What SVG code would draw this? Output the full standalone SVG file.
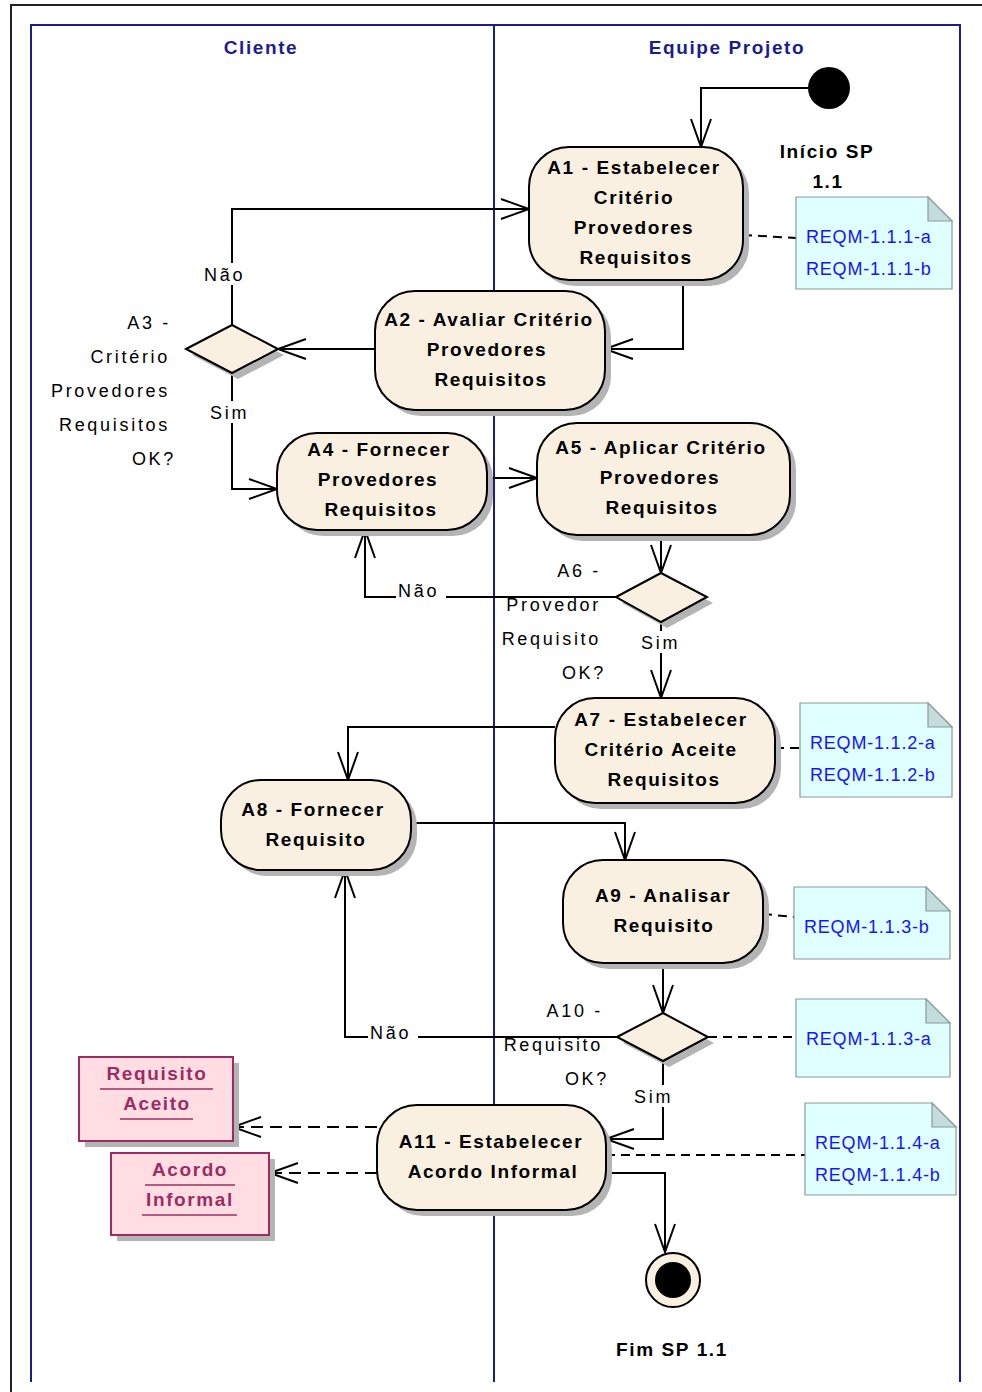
<svg xmlns="http://www.w3.org/2000/svg" width="982" height="1392" viewBox="0 0 982 1392">
<style>
.frame{fill:none;stroke:#222;stroke-width:2}
.lane{fill:none;stroke:#1c1c8a;stroke-width:2}
.hdr{font-family:"Liberation Sans",Arial,sans-serif;font-weight:bold;font-size:19px;letter-spacing:1.6px;fill:#1c1c8a;text-anchor:middle}
.act{fill:#faf0e1;stroke:#000;stroke-width:2}
.shd{fill:#b4b4b4;stroke:none}
.at{font-family:"Liberation Sans",Arial,sans-serif;font-weight:bold;font-size:19px;letter-spacing:1.6px;fill:#000;text-anchor:middle}
.lbl{font-family:"Liberation Sans",Arial,sans-serif;font-size:18px;letter-spacing:2.7px;fill:#000}
.bl{font-family:"Liberation Sans",Arial,sans-serif;font-weight:bold;font-size:19px;letter-spacing:1.6px;fill:#000;text-anchor:middle}
.note{fill:#e0ffff;stroke:#8a9a9a;stroke-width:1.2}
.fold{fill:#c4dcdc;stroke:#8a9a9a;stroke-width:1.2}
.nt{font-family:"Liberation Sans",Arial,sans-serif;font-size:18px;letter-spacing:0.8px;fill:#1414ff}
.obj{fill:#ffdde2;stroke:#9c2c62;stroke-width:2}
.ot{font-family:"Liberation Sans",Arial,sans-serif;font-weight:bold;font-size:19px;letter-spacing:1.6px;fill:#9c2c62;text-anchor:middle}
.ul{stroke:#9c2c62;stroke-width:1.5}
.flow{fill:none;stroke:#000;stroke-width:2;marker-end:url(#arr)}
.dash{fill:none;stroke:#000;stroke-width:2;stroke-dasharray:9 6}
.dasharr{fill:none;stroke:#000;stroke-width:2;stroke-dasharray:12 7;marker-end:url(#arr)}
.bg{fill:#fff}
</style>
<defs>
<marker id="arr" viewBox="-31 -12 34 24" refX="0" refY="0" markerWidth="34" markerHeight="24" markerUnits="userSpaceOnUse" orient="auto">
<path d="M-28,-10 L0,0 L-28,10" fill="none" stroke="#000" stroke-width="2"/>
</marker>
</defs>
<rect width="982" height="1392" fill="#fff"/>
<!-- frame -->
<path class="frame" d="M11,1392 V5 H982"/>
<!-- swimlanes -->
<g id="lanes">
<path class="lane" d="M31,1382 V25 H960 V1382"/>
<line class="lane" x1="494" y1="25" x2="494" y2="1382"/>
<text class="hdr" x="261" y="54">Cliente</text>
<text class="hdr" x="727" y="54">Equipe Projeto</text>
</g>

<!-- connectors -->
<g id="connectors">
<path class="flow" d="M808,88 H701 V147"/>
<path class="flow" d="M683,280 V349 H605"/>
<path class="flow" d="M375,349 H278"/>
<path class="flow" d="M232,325 V209 H529"/>
<path class="flow" d="M232,373 V489 H277"/>
<path class="flow" d="M487,478 H537"/>
<path class="flow" d="M661,535 V573"/>
<path class="flow" d="M616,597 H365 V530"/>
<path class="flow" d="M661,622 V698"/>
<path class="flow" d="M555,727 H348 V780"/>
<path class="flow" d="M411,823 H625 V860"/>
<path class="flow" d="M663,963 V1013"/>
<path class="flow" d="M617,1037 H345 V870"/>
<path class="flow" d="M663,1061 V1139 H606"/>
<path class="flow" d="M606,1173 H665 V1252"/>
<path class="dasharr" d="M377,1127 H233"/>
<path class="dasharr" d="M377,1173 H270"/>
<path class="dash" d="M743,235 L796,238"/>
<path class="dash" d="M775,748 H800"/>
<path class="dash" d="M763,914 L794,917"/>
<path class="dash" d="M708,1037 H796"/>
<path class="dash" d="M606,1155 H805"/>
<!-- guard labels -->
<rect class="bg" x="202" y="263" width="50" height="22"/>
<text class="lbl" x="204" y="281">Não</text>
<rect class="bg" x="208" y="401" width="46" height="22"/>
<text class="lbl" x="210" y="419">Sim</text>
<rect class="bg" x="396" y="579" width="50" height="22"/>
<text class="lbl" x="398" y="597">Não</text>
<rect class="bg" x="639" y="631" width="46" height="22"/>
<text class="lbl" x="641" y="649">Sim</text>
<rect class="bg" x="368" y="1021" width="50" height="22"/>
<text class="lbl" x="370" y="1039">Não</text>
<rect class="bg" x="632" y="1085" width="46" height="22"/>
<text class="lbl" x="634" y="1103">Sim</text>
</g>

<!-- initial node -->
<g id="start">
<circle cx="829" cy="88" r="21" fill="#000"/>
<text class="bl" x="827" y="158">Início SP</text>
<text class="bl" x="828" y="188">1.1</text>
</g>

<g id="A1">
<rect class="shd" x="535" y="153" width="214" height="133" rx="40"/>
<rect class="act" x="529" y="147" width="214" height="133" rx="40"/>
<text class="at" x="634" y="174">A1 - Estabelecer</text>
<text class="at" x="634" y="204">Critério</text>
<text class="at" x="634" y="234">Provedores</text>
<text class="at" x="636" y="264">Requisitos</text>
</g>

<g id="note1">
<polygon class="note" points="796,197 928,197 952,221 952,289 796,289"/>
<polygon class="fold" points="928,197 952,221 928,221"/>
<text class="nt" x="806" y="243">REQM-1.1.1-a</text>
<text class="nt" x="806" y="275">REQM-1.1.1-b</text>
</g>

<g id="A2">
<rect class="shd" x="381" y="297" width="230" height="119" rx="40"/>
<rect class="act" x="375" y="291" width="230" height="119" rx="40"/>
<text class="at" x="489" y="326">A2 - Avaliar Critério</text>
<text class="at" x="487" y="356">Provedores</text>
<text class="at" x="491" y="386">Requisitos</text>
</g>

<g id="A3">
<polygon class="shd" points="192,355 238,331 284,355 238,379"/>
<polygon class="act" points="186,349 232,325 278,349 232,373"/>
<text class="lbl" text-anchor="end" x="171" y="329">A3 -</text>
<text class="lbl" text-anchor="end" x="170" y="363">Critério</text>
<text class="lbl" text-anchor="end" x="170" y="397">Provedores</text>
<text class="lbl" text-anchor="end" x="170" y="431">Requisitos</text>
<text class="lbl" text-anchor="end" x="176" y="465">OK?</text>
</g>

<g id="A4">
<rect class="shd" x="283" y="439" width="210" height="97" rx="40"/>
<rect class="act" x="277" y="433" width="210" height="97" rx="40"/>
<text class="at" x="379" y="456">A4 - Fornecer</text>
<text class="at" x="378" y="486">Provedores</text>
<text class="at" x="381" y="516">Requisitos</text>
</g>

<g id="A5">
<rect class="shd" x="543" y="429" width="253" height="112" rx="40"/>
<rect class="act" x="537" y="423" width="253" height="112" rx="40"/>
<text class="at" x="661" y="454">A5 - Aplicar Critério</text>
<text class="at" x="660" y="484">Provedores</text>
<text class="at" x="662" y="514">Requisitos</text>
</g>

<g id="A6">
<polygon class="shd" points="622,603 667,579 713,603 667,628"/>
<polygon class="act" points="616,597 661,573 707,597 661,622"/>
<text class="lbl" text-anchor="end" x="601" y="577">A6 -</text>
<text class="lbl" text-anchor="end" x="601" y="611">Provedor</text>
<text class="lbl" text-anchor="end" x="601" y="645">Requisito</text>
<text class="lbl" text-anchor="end" x="606" y="679">OK?</text>
</g>

<g id="A7">
<rect class="shd" x="561" y="704" width="220" height="105" rx="40"/>
<rect class="act" x="555" y="698" width="220" height="105" rx="40"/>
<text class="at" x="661" y="726">A7 - Estabelecer</text>
<text class="at" x="661" y="756">Critério Aceite</text>
<text class="at" x="664" y="786">Requisitos</text>
</g>

<g id="note2">
<polygon class="note" points="800,703 928,703 952,727 952,797 800,797"/>
<polygon class="fold" points="928,703 952,727 928,727"/>
<text class="nt" x="810" y="749">REQM-1.1.2-a</text>
<text class="nt" x="810" y="781">REQM-1.1.2-b</text>
</g>

<g id="A8">
<rect class="shd" x="227" y="786" width="190" height="90" rx="40"/>
<rect class="act" x="221" y="780" width="190" height="90" rx="40"/>
<text class="at" x="313" y="816">A8 - Fornecer</text>
<text class="at" x="316" y="846">Requisito</text>
</g>

<g id="A9">
<rect class="shd" x="569" y="866" width="200" height="103" rx="40"/>
<rect class="act" x="563" y="860" width="200" height="103" rx="40"/>
<text class="at" x="663" y="902">A9 - Analisar</text>
<text class="at" x="664" y="932">Requisito</text>
</g>

<g id="note3">
<polygon class="note" points="794,887 926,887 950,911 950,959 794,959"/>
<polygon class="fold" points="926,887 950,911 926,911"/>
<text class="nt" x="804" y="933">REQM-1.1.3-b</text>
</g>

<g id="A10">
<polygon class="shd" points="623,1043 669,1019 714,1043 669,1067"/>
<polygon class="act" points="617,1037 663,1013 708,1037 663,1061"/>
<text class="lbl" text-anchor="end" x="603" y="1017">A10 -</text>
<text class="lbl" text-anchor="end" x="603" y="1051">Requisito</text>
<text class="lbl" text-anchor="end" x="609" y="1085">OK?</text>
</g>

<g id="note4">
<polygon class="note" points="796,999 926,999 950,1023 950,1077 796,1077"/>
<polygon class="fold" points="926,999 950,1023 926,1023"/>
<text class="nt" x="806" y="1045">REQM-1.1.3-a</text>
</g>

<g id="A11">
<rect class="shd" x="383" y="1111" width="229" height="105" rx="40"/>
<rect class="act" x="377" y="1105" width="229" height="105" rx="40"/>
<text class="at" x="491" y="1148">A11 - Estabelecer</text>
<text class="at" x="493" y="1178">Acordo Informal</text>
</g>

<g id="note5">
<polygon class="note" points="805,1103 932,1103 956,1127 956,1195 805,1195"/>
<polygon class="fold" points="932,1103 956,1127 932,1127"/>
<text class="nt" x="815" y="1149">REQM-1.1.4-a</text>
<text class="nt" x="815" y="1181">REQM-1.1.4-b</text>
</g>

<g id="obj1">
<rect class="shd" x="85" y="1063" width="154" height="84"/>
<rect class="obj" x="79" y="1057" width="154" height="84"/>
<text class="ot" x="157" y="1080">Requisito</text>
<line class="ul" x1="100" y1="1089" x2="213" y2="1089"/>
<text class="ot" x="157" y="1110">Aceito</text>
<line class="ul" x1="120" y1="1119" x2="193" y2="1119"/>
</g>

<g id="obj2">
<rect class="shd" x="117" y="1159" width="158" height="82"/>
<rect class="obj" x="111" y="1153" width="158" height="82"/>
<text class="ot" x="190" y="1176">Acordo</text>
<line class="ul" x1="145" y1="1185" x2="235" y2="1185"/>
<text class="ot" x="190" y="1206">Informal</text>
<line class="ul" x1="142" y1="1215" x2="237" y2="1215"/>
</g>

<g id="end">
<circle cx="673" cy="1280" r="27" fill="#faf0e1" stroke="#000" stroke-width="2"/>
<circle cx="673" cy="1280" r="18" fill="#000"/>
<text class="bl" x="672" y="1356">Fim SP 1.1</text>
</g>
</svg>
